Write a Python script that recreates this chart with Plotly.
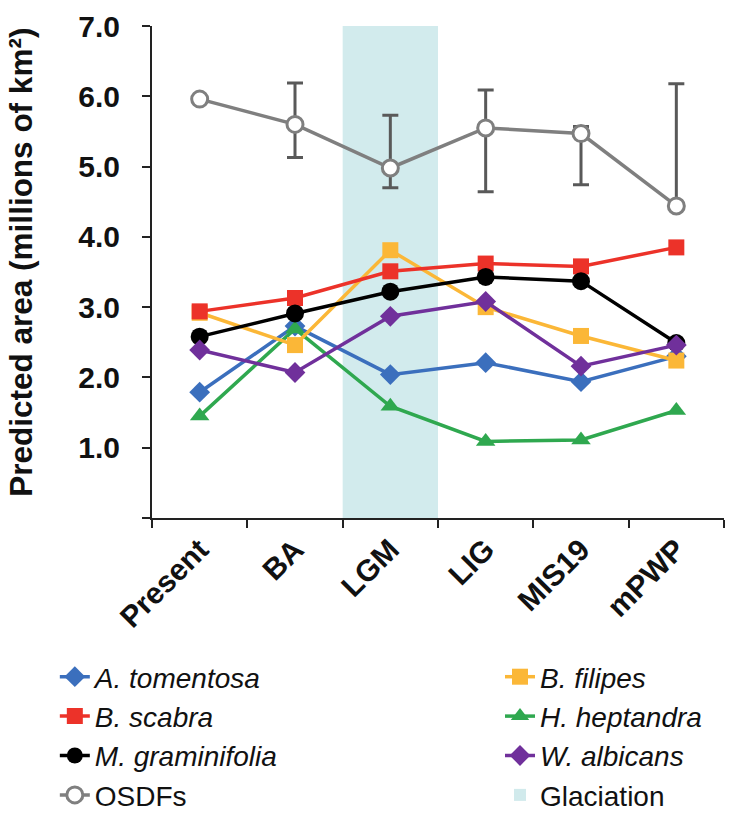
import plotly.graph_objects as go

categories = ["Present", "BA", "LGM", "LIG", "MIS19", "mPWP"]

a_tomentosa = [1.79, 2.73, 2.04, 2.21, 1.94, 2.30]
b_scabra = [2.94, 3.13, 3.51, 3.62, 3.58, 3.85]
m_graminifolia = [2.58, 2.91, 3.22, 3.43, 3.37, 2.49]
b_filipes = [2.92, 2.46, 3.81, 3.00, 2.59, 2.24]
h_heptandra = [1.45, 2.69, 1.59, 1.09, 1.11, 1.53]
w_albicans = [2.39, 2.07, 2.87, 3.08, 2.16, 2.46]

osdfs = [5.96, 5.60, 4.98, 5.55, 5.47, 4.44]
osdfs_err_plus = [0.0, 0.59, 0.75, 0.54, 0.10, 1.74]
osdfs_err_minus = [0.0, 0.47, 0.28, 0.91, 0.73, 0.0]

glaciation_period = ["LGM"]
glaciation_top = [7.0]

y_ticks = [0, 1, 2, 3, 4, 5, 6, 7]
y_ticktext = ["", "1.0", "2.0", "3.0", "4.0", "5.0", "6.0", "7.0"]
y_title = "Predicted area (millions of km²)"

FONT = "Liberation Sans, Arial, sans-serif"

fig = go.Figure()

fig.add_trace(go.Bar(
    x=glaciation_period, y=glaciation_top, width=1,
    name="Glaciation", marker=dict(color="#93cfd3", line=dict(width=0)),
    opacity=0.42, legend="legend2", legendrank=4, hoverinfo="skip",
))

fig.add_trace(go.Scatter(
    x=categories, y=osdfs, name="OSDFs", mode="lines+markers",
    line=dict(color="#7f7f7f", width=3.5),
    marker=dict(symbol="circle", size=16, color="white",
                line=dict(color="#7f7f7f", width=3)),
    error_y=dict(type="data", symmetric=False, array=osdfs_err_plus,
                 arrayminus=osdfs_err_minus, color="#595959",
                 thickness=3, width=8),
    legend="legend", legendrank=4,
))

def add_series(vals, name, color, symbol, size, legend, rank):
    fig.add_trace(go.Scatter(
        x=categories, y=vals, name=name, mode="lines+markers",
        line=dict(color=color, width=3.5),
        marker=dict(symbol=symbol, size=size, color=color,
                    line=dict(color=color, width=0)),
        legend=legend, legendrank=rank,
    ))

add_series(a_tomentosa, "<i>A. tomentosa</i>", "#3b6fbd", "diamond", 16, "legend", 1)
add_series(h_heptandra, "<i>H. heptandra</i>", "#2fa84f", "triangle-up", 17, "legend2", 2)
add_series(b_filipes, "<i>B. filipes</i>", "#fbb737", "square", 16, "legend2", 1)
add_series(b_scabra, "<i>B. scabra</i>", "#ec3229", "square", 16, "legend", 2)
add_series(m_graminifolia, "<i>M. graminifolia</i>", "#000000", "circle", 18, "legend", 3)
add_series(w_albicans, "<i>W. albicans</i>", "#70309b", "diamond", 16, "legend2", 3)

legend_common = dict(
    orientation="v", xanchor="left", yanchor="top",
    xref="container", yref="container",
    font=dict(family=FONT, size=28, color="#111111"),
    traceorder="normal", itemwidth=30, tracegroupgap=0,
    bgcolor="rgba(0,0,0,0)",
)

fig.update_layout(
    width=731, height=815,
    margin=dict(l=152, r=7, t=26, b=297, autoexpand=False),
    paper_bgcolor="white", plot_bgcolor="white",
    font=dict(family=FONT, color="#000000"),
    showlegend=True,
    legend=dict(x=0.075, y=0.2, **legend_common),
    legend2=dict(x=0.684, y=0.2, **legend_common),
    xaxis=dict(
        type="category", categoryorder="array", categoryarray=categories,
        range=[-0.5, 5.5], showgrid=False, zeroline=False,
        showline=True, linecolor="#222222", linewidth=2,
        ticks="outside", ticklen=8, tickwidth=2, tickcolor="#222222",
        tickson="boundaries", tickangle=-45, automargin=False,
        tickfont=dict(family=FONT, size=30, weight="bold", color="#111111"),
    ),
    yaxis=dict(
        range=[0, 7], tickvals=y_ticks, ticktext=y_ticktext,
        showgrid=False, zeroline=False,
        showline=True, linecolor="#222222", linewidth=2,
        ticks="outside", ticklen=8, tickwidth=2, tickcolor="#222222",
        ticklabelstandoff=16, automargin=False,
        tickfont=dict(family=FONT, size=30, weight="bold", color="#111111"),
    ),
    annotations=[dict(
        text=y_title, textangle=-90, showarrow=False,
        xref="paper", yref="paper", x=-0.228, y=0.52,
        xanchor="center", yanchor="middle",
        font=dict(family=FONT, size=31.5, weight="bold", color="#111111"),
    )],
)

fig.write_html("out.html")
